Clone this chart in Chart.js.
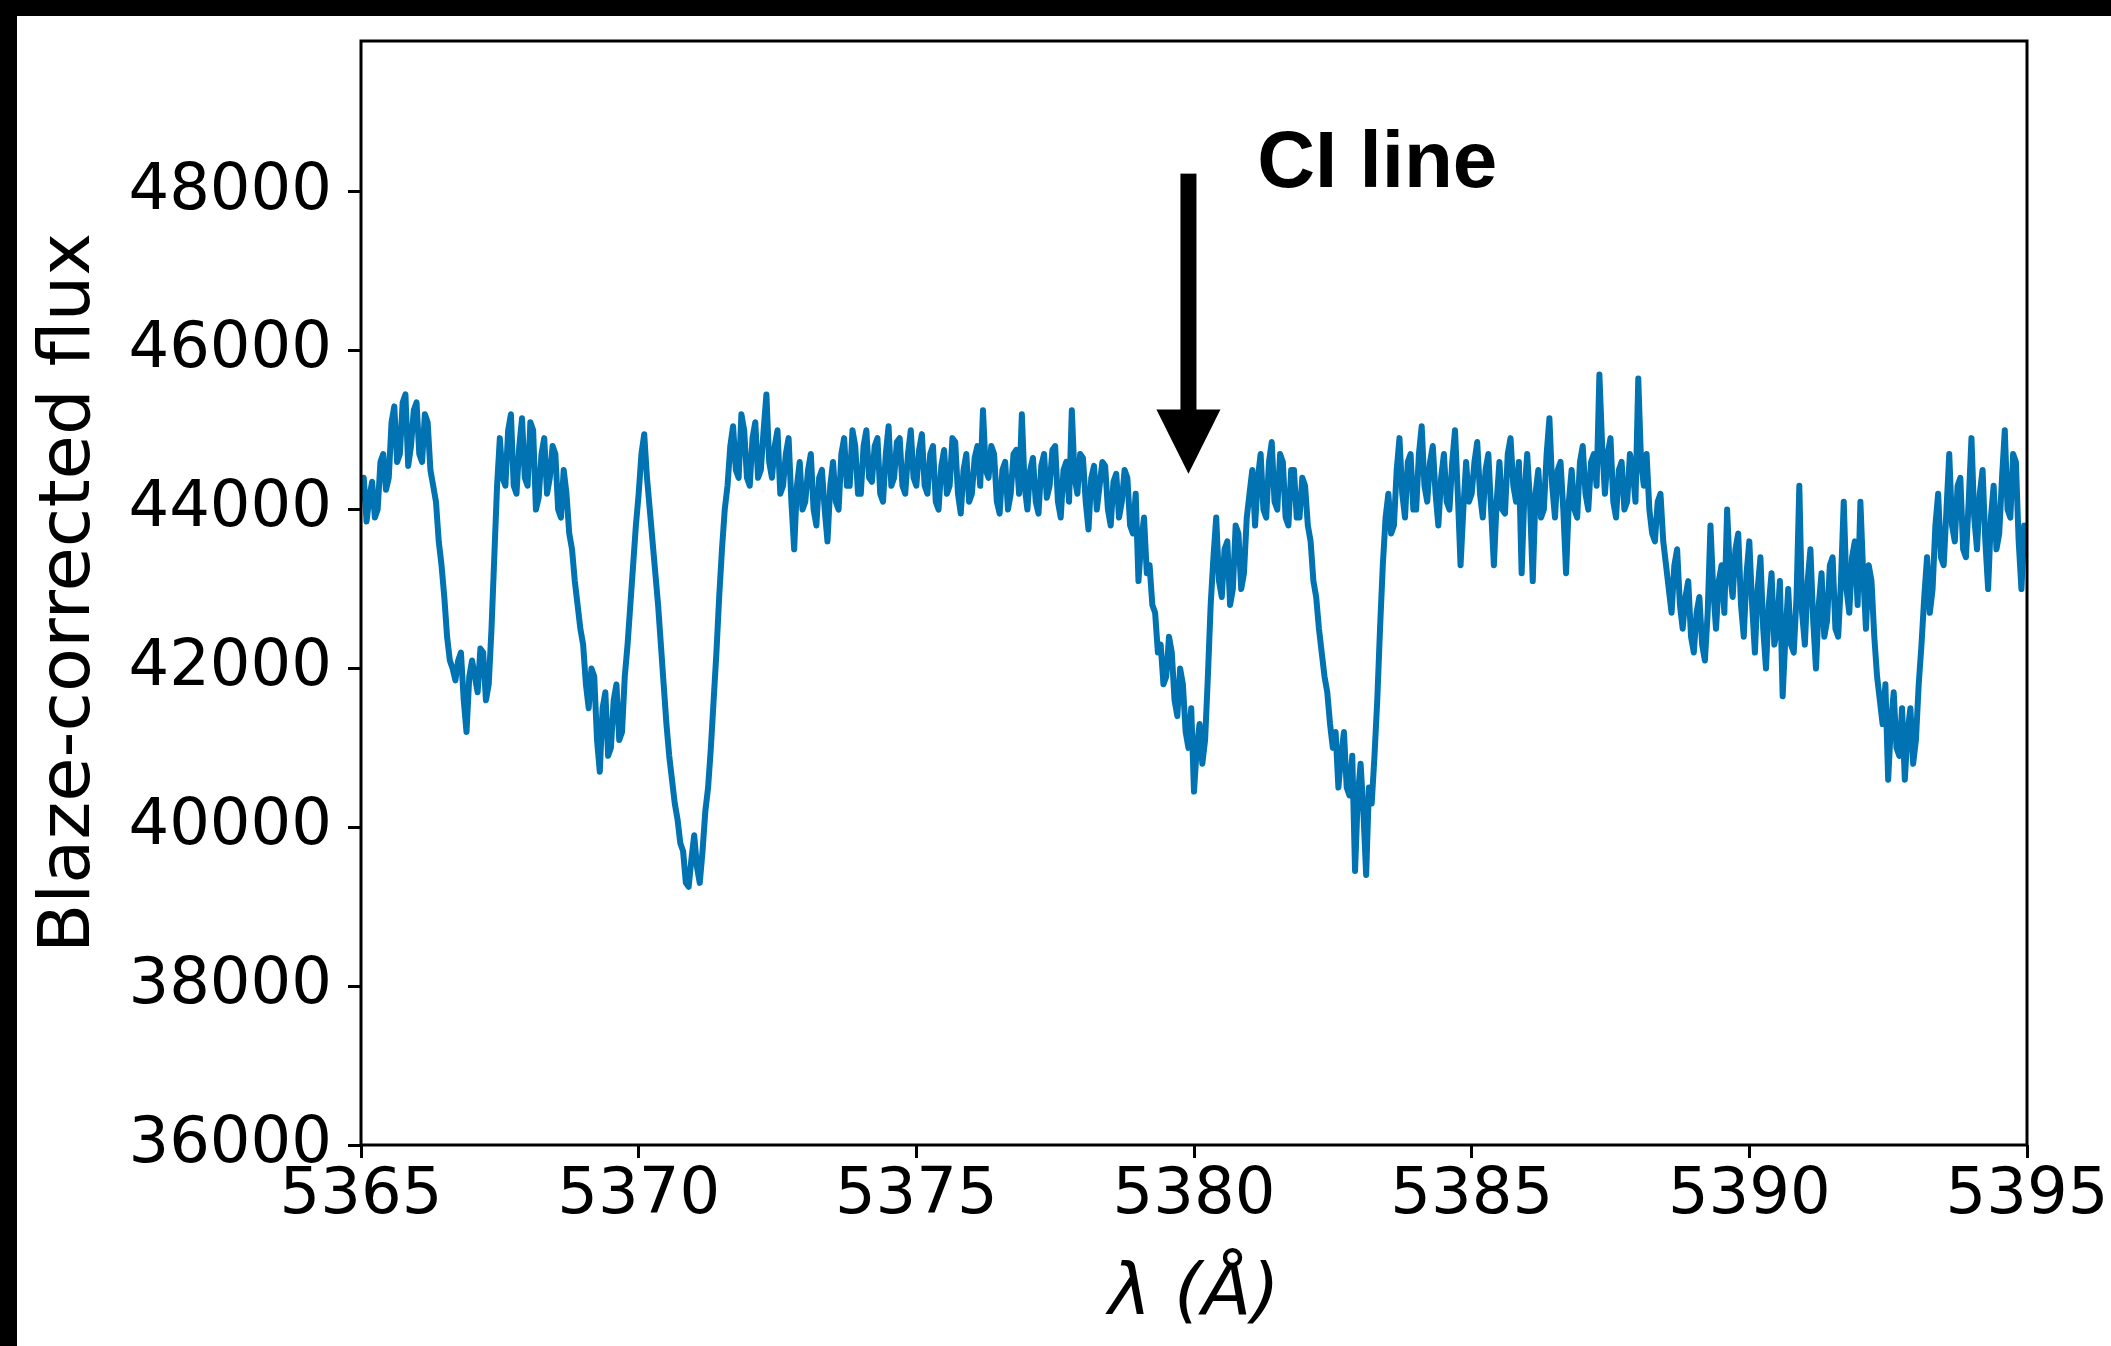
<!DOCTYPE html>
<html>
<head>
<meta charset="utf-8">
<script src="https://cdn.jsdelivr.net/npm/chart.js@4.4.0/dist/chart.umd.min.js"></script>
<style>
    html, body { margin: 0; padding: 0; background: #fff; }
    #wrap { position: relative; width: 2111px; height: 1346px; overflow: hidden; }
    #barTop { position: absolute; left: 0; top: 0; width: 2111px; height: 16px; background: #000; }
    #barLeft { position: absolute; left: 0; top: 0; width: 17px; height: 1346px; background: #000; }
</style>
</head>
<body>
<div id="wrap">
    <canvas id="spectrumChart" width="2111" height="1346"></canvas>
    <div id="barTop"></div>
    <div id="barLeft"></div>
</div>
<script>
// Spectrum, one value every 0.05 A starting at 5365 A
const lambdaStart = 5365;
const lambdaStep = 0.05;
const flux = [
    // 5365
    44100, 44400, 43850, 44150, 44350, 43900, 44000, 44600, 44700, 44250,
    44400, 45100, 45300, 44600, 44700, 45350, 45450, 44550, 44800, 45250,
    // 5366
    45350, 44700, 44600, 45200, 45100, 44500, 44300, 44100, 43600, 43300,
    42900, 42400, 42100, 42000, 41850, 42100, 42200, 41600, 41200, 41900,
    // 5367
    42100, 41900, 41700, 42250, 42200, 41600, 41800, 42500, 43400, 44300,
    44900, 44400, 44300, 45000, 45200, 44300, 44200, 44800, 45150, 44400,
    // 5368
    44300, 45100, 45000, 44000, 44150, 44700, 44900, 44200, 44400, 44800,
    44700, 44000, 43900, 44500, 44200, 43700, 43500, 43100, 42800, 42500,
    // 5369
    42300, 41800, 41500, 42000, 41900, 41100, 40700, 41500, 41700, 40900,
    41000, 41600, 41800, 41100, 41200, 41900, 42300, 42800, 43300, 43800,
    // 5370
    44200, 44700, 44950, 44400, 44000, 43600, 43200, 42800, 42300, 41800,
    41300, 40900, 40600, 40300, 40100, 39800, 39700, 39300, 39250, 39600,
    // 5371
    39900, 39500, 39300, 39700, 40200, 40500, 41000, 41600, 42200, 42900,
    43500, 44000, 44300, 44800, 45050, 44500, 44400, 45200, 45000, 44400,
    // 5372
    44300, 44900, 45100, 44400, 44500, 45000, 45450, 44600, 44400, 44800,
    45000, 44200, 44300, 44700, 44900, 44100, 43500, 44300, 44600, 44000,
    // 5373
    44100, 44500, 44700, 44000, 43800, 44400, 44500, 44000, 43600, 44300,
    44600, 44100, 44000, 44700, 44900, 44300, 44300, 45000, 44800, 44200,
    // 5374
    44200, 44800, 45000, 44400, 44350, 44800, 44900, 44200, 44100, 44700,
    45050, 44300, 44400, 44850, 44900, 44300, 44200, 44700, 45000, 44400,
    // 5375
    44300, 44750, 44950, 44300, 44200, 44700, 44800, 44100, 44000, 44550,
    44750, 44200, 44300, 44900, 44850, 44200, 43950, 44500, 44700, 44100,
    // 5376
    44200, 44650, 44800, 44300, 45250, 44500, 44400, 44800, 44700, 44100,
    43950, 44500, 44600, 44000, 44200, 44700, 44750, 44200, 45200, 44300,
    // 5377
    44000, 44500, 44650, 44100, 43950, 44550, 44700, 44150, 44300, 44750,
    44800, 44100, 43900, 44500, 44600, 44100, 45250, 44400, 44200, 44700,
    // 5378
    44650, 44100, 43750, 44400, 44550, 44000, 44300, 44600, 44550, 44000,
    43800, 44350, 44450, 43900, 44100, 44500, 44400, 43800, 43700, 44200,
    // 5379
    43100, 43600, 43900, 43200, 43300, 42800, 42700, 42200, 42300, 41800,
    41900, 42400, 42200, 41600, 41400, 42000, 41800, 41200, 41000, 41500,
    // 5380
    40450, 41000, 41300, 40800, 41100, 41900, 42800, 43400, 43900, 43100,
    42900, 43500, 43600, 42800, 43000, 43800, 43700, 43000, 43200, 43900,
    // 5381
    44200, 44500, 43800, 44400, 44700, 44000, 43900, 44600, 44850, 44100,
    44000, 44700, 44600, 43900, 43800, 44500, 44500, 43900, 43900, 44400,
    // 5382
    44300, 43800, 43600, 43100, 42900, 42500, 42200, 41900, 41700, 41300,
    41000, 41200, 40500, 40900, 41200, 40500, 40400, 40900, 39450, 40400,
    // 5383
    40800, 40200, 39400, 40500, 40300, 40900, 41600, 42500, 43300, 43900,
    44200, 43700, 43800, 44500, 44900, 44200, 43900, 44600, 44700, 44000,
    // 5384
    44000, 44700, 45050, 44300, 44100, 44600, 44800, 44200, 43800, 44400,
    44700, 44100, 44000, 44600, 45000, 44200, 43300, 44000, 44600, 44100,
    // 5385
    44200, 44600, 44850, 44200, 43900, 44500, 44700, 44000, 43300, 44100,
    44600, 44000, 43950, 44700, 44900, 44300, 44100, 44600, 43200, 44200,
    // 5386
    44700, 44100, 43100, 44200, 44500, 43900, 44000, 44700, 45150, 44300,
    43900, 44500, 44600, 44000, 43200, 44100, 44500, 44000, 43900, 44600,
    // 5387
    44800, 44200, 44000, 44600, 44700, 44300, 45700, 44800, 44200, 44700,
    44900, 44100, 43900, 44500, 44600, 44000, 44100, 44700, 44500, 44100,
    // 5388
    45650, 44600, 44300, 44700, 44000, 43700, 43600, 44100, 44200, 43600,
    43300, 43000, 42700, 43300, 43500, 42800, 42500, 42900, 43100, 42400,
    // 5389
    42200, 42700, 42900, 42300, 42100, 42700, 43800, 43000, 42500, 43100,
    43300, 42700, 44000, 43200, 42900, 43500, 43700, 42800, 42400, 43200,
    // 5390
    43600, 42800, 42200, 43000, 43400, 42500, 42000, 42800, 43200, 42300,
    42500, 43100, 41650, 42400, 43000, 42300, 42200, 42900, 44300, 42700,
    // 5391
    42300, 43100, 43500, 42600, 42000, 42800, 43200, 42400, 42600, 43300,
    43400, 42500, 42400, 43100, 44100, 43000, 42700, 43400, 43600, 42800,
    // 5392
    44100, 43200, 42500, 43300, 43100, 42400, 41900, 41600, 41300, 41800,
    40600, 41300, 41700, 41000, 40900, 41500, 40600, 41200, 41500, 40800,
    // 5393
    41100, 41800, 42300, 42900, 43400, 42700, 43000, 43800, 44200, 43400,
    43300, 44000, 44700, 43800, 43600, 44300, 44400, 43500, 43400, 44100,
    // 5394
    44900, 43900, 43500, 44200, 44500, 43600, 43000, 43900, 44300, 43500,
    43700, 44400, 45000, 44000, 43900, 44700, 44600, 43600, 43000, 43800,
    // 5395
    43400
];

const xTicks = [5365, 5370, 5375, 5380, 5385, 5390, 5395];
const yTicks = [36000, 38000, 40000, 42000, 44000, 46000, 48000];

const tickFont = { family: '"DejaVu Sans", sans-serif', size: 64 };
const titleFont = { family: '"DejaVu Sans", sans-serif', size: 72 };

// box around the plot, like matplotlib spines
const framePlugin = {
    id: 'frame',
    afterDatasetsDraw(chart) {
        const { ctx, chartArea: a } = chart;
        ctx.save();
        ctx.strokeStyle = '#000';
        ctx.lineWidth = 3;
        ctx.strokeRect(a.left, a.top, a.right - a.left, a.bottom - a.top);
        ctx.restore();
    }
};

// arrow + "CI line" label
const ciLinePlugin = {
    id: 'ciLine',
    afterDraw(chart) {
        const { ctx, scales: { x, y } } = chart;
        const ax = x.getPixelForValue(5379.9);
        const top = y.getPixelForValue(48230);
        const base = y.getPixelForValue(45260);
        const tip = y.getPixelForValue(44450);
        ctx.save();
        ctx.fillStyle = '#000';
        ctx.fillRect(ax - 8, top, 16, base - top + 1);
        ctx.beginPath();
        ctx.moveTo(ax - 32, base);
        ctx.lineTo(ax + 32, base);
        ctx.lineTo(ax, tip);
        ctx.closePath();
        ctx.fill();
        ctx.font = 'bold 80px "Liberation Sans", Arial, sans-serif';
        ctx.textBaseline = 'alphabetic';
        ctx.textAlign = 'left';
        ctx.fillText('CI line', x.getPixelForValue(5381.14), y.getPixelForValue(48063));
        ctx.restore();
    }
};

const ctx = document.getElementById('spectrumChart').getContext('2d');
new Chart(ctx, {
    type: 'line',
    data: {
        datasets: [{
            data: flux.map((v, i) => ({ x: lambdaStart + i * lambdaStep, y: v })),
            borderColor: '#0173b2',
            borderWidth: 6,
            borderJoinStyle: 'round',
            pointRadius: 0,
            fill: false,
            tension: 0
        }]
    },
    options: {
        responsive: false,
        animation: false,
        devicePixelRatio: 1,
        layout: { padding: { top: 41, right: 84, bottom: 0, left: 0 } },
        plugins: { legend: { display: false }, tooltip: { enabled: false } },
        scales: {
            x: {
                type: 'linear',
                min: 5365,
                max: 5395,
                afterBuildTicks: s => { s.ticks = xTicks.map(v => ({ value: v })); },
                afterFit: s => { s.height = 201; s.paddingLeft = 0; s.paddingRight = 0; },
                grid: { drawOnChartArea: false, tickLength: 13, tickWidth: 3, tickColor: '#000' },
                border: { display: false },
                ticks: {
                    font: tickFont, color: '#000', padding: 0,
                    autoSkip: false, maxRotation: 0,
                    callback: v => String(v)
                },
                title: {
                    display: true, text: 'λ (Å)', color: '#000',
                    font: { ...titleFont, style: 'italic' },
                    padding: { top: 0, bottom: 8 }
                }
            },
            y: {
                type: 'linear',
                min: 36000,
                max: 49900,
                afterBuildTicks: s => { s.ticks = yTicks.map(v => ({ value: v })); },
                afterFit: s => { s.width = 361; s.paddingTop = 0; s.paddingBottom = 0; },
                grid: { drawOnChartArea: false, tickLength: 13, tickWidth: 3, tickColor: '#000' },
                border: { display: false },
                ticks: {
                    font: tickFont, color: '#000', padding: 16,
                    callback: v => String(v)
                },
                title: {
                    display: true, text: 'Blaze-corrected flux', color: '#000',
                    font: titleFont,
                    padding: { top: 27, bottom: 0 }
                }
            }
        }
    },
    plugins: [framePlugin, ciLinePlugin]
});
</script>
</body>
</html>
